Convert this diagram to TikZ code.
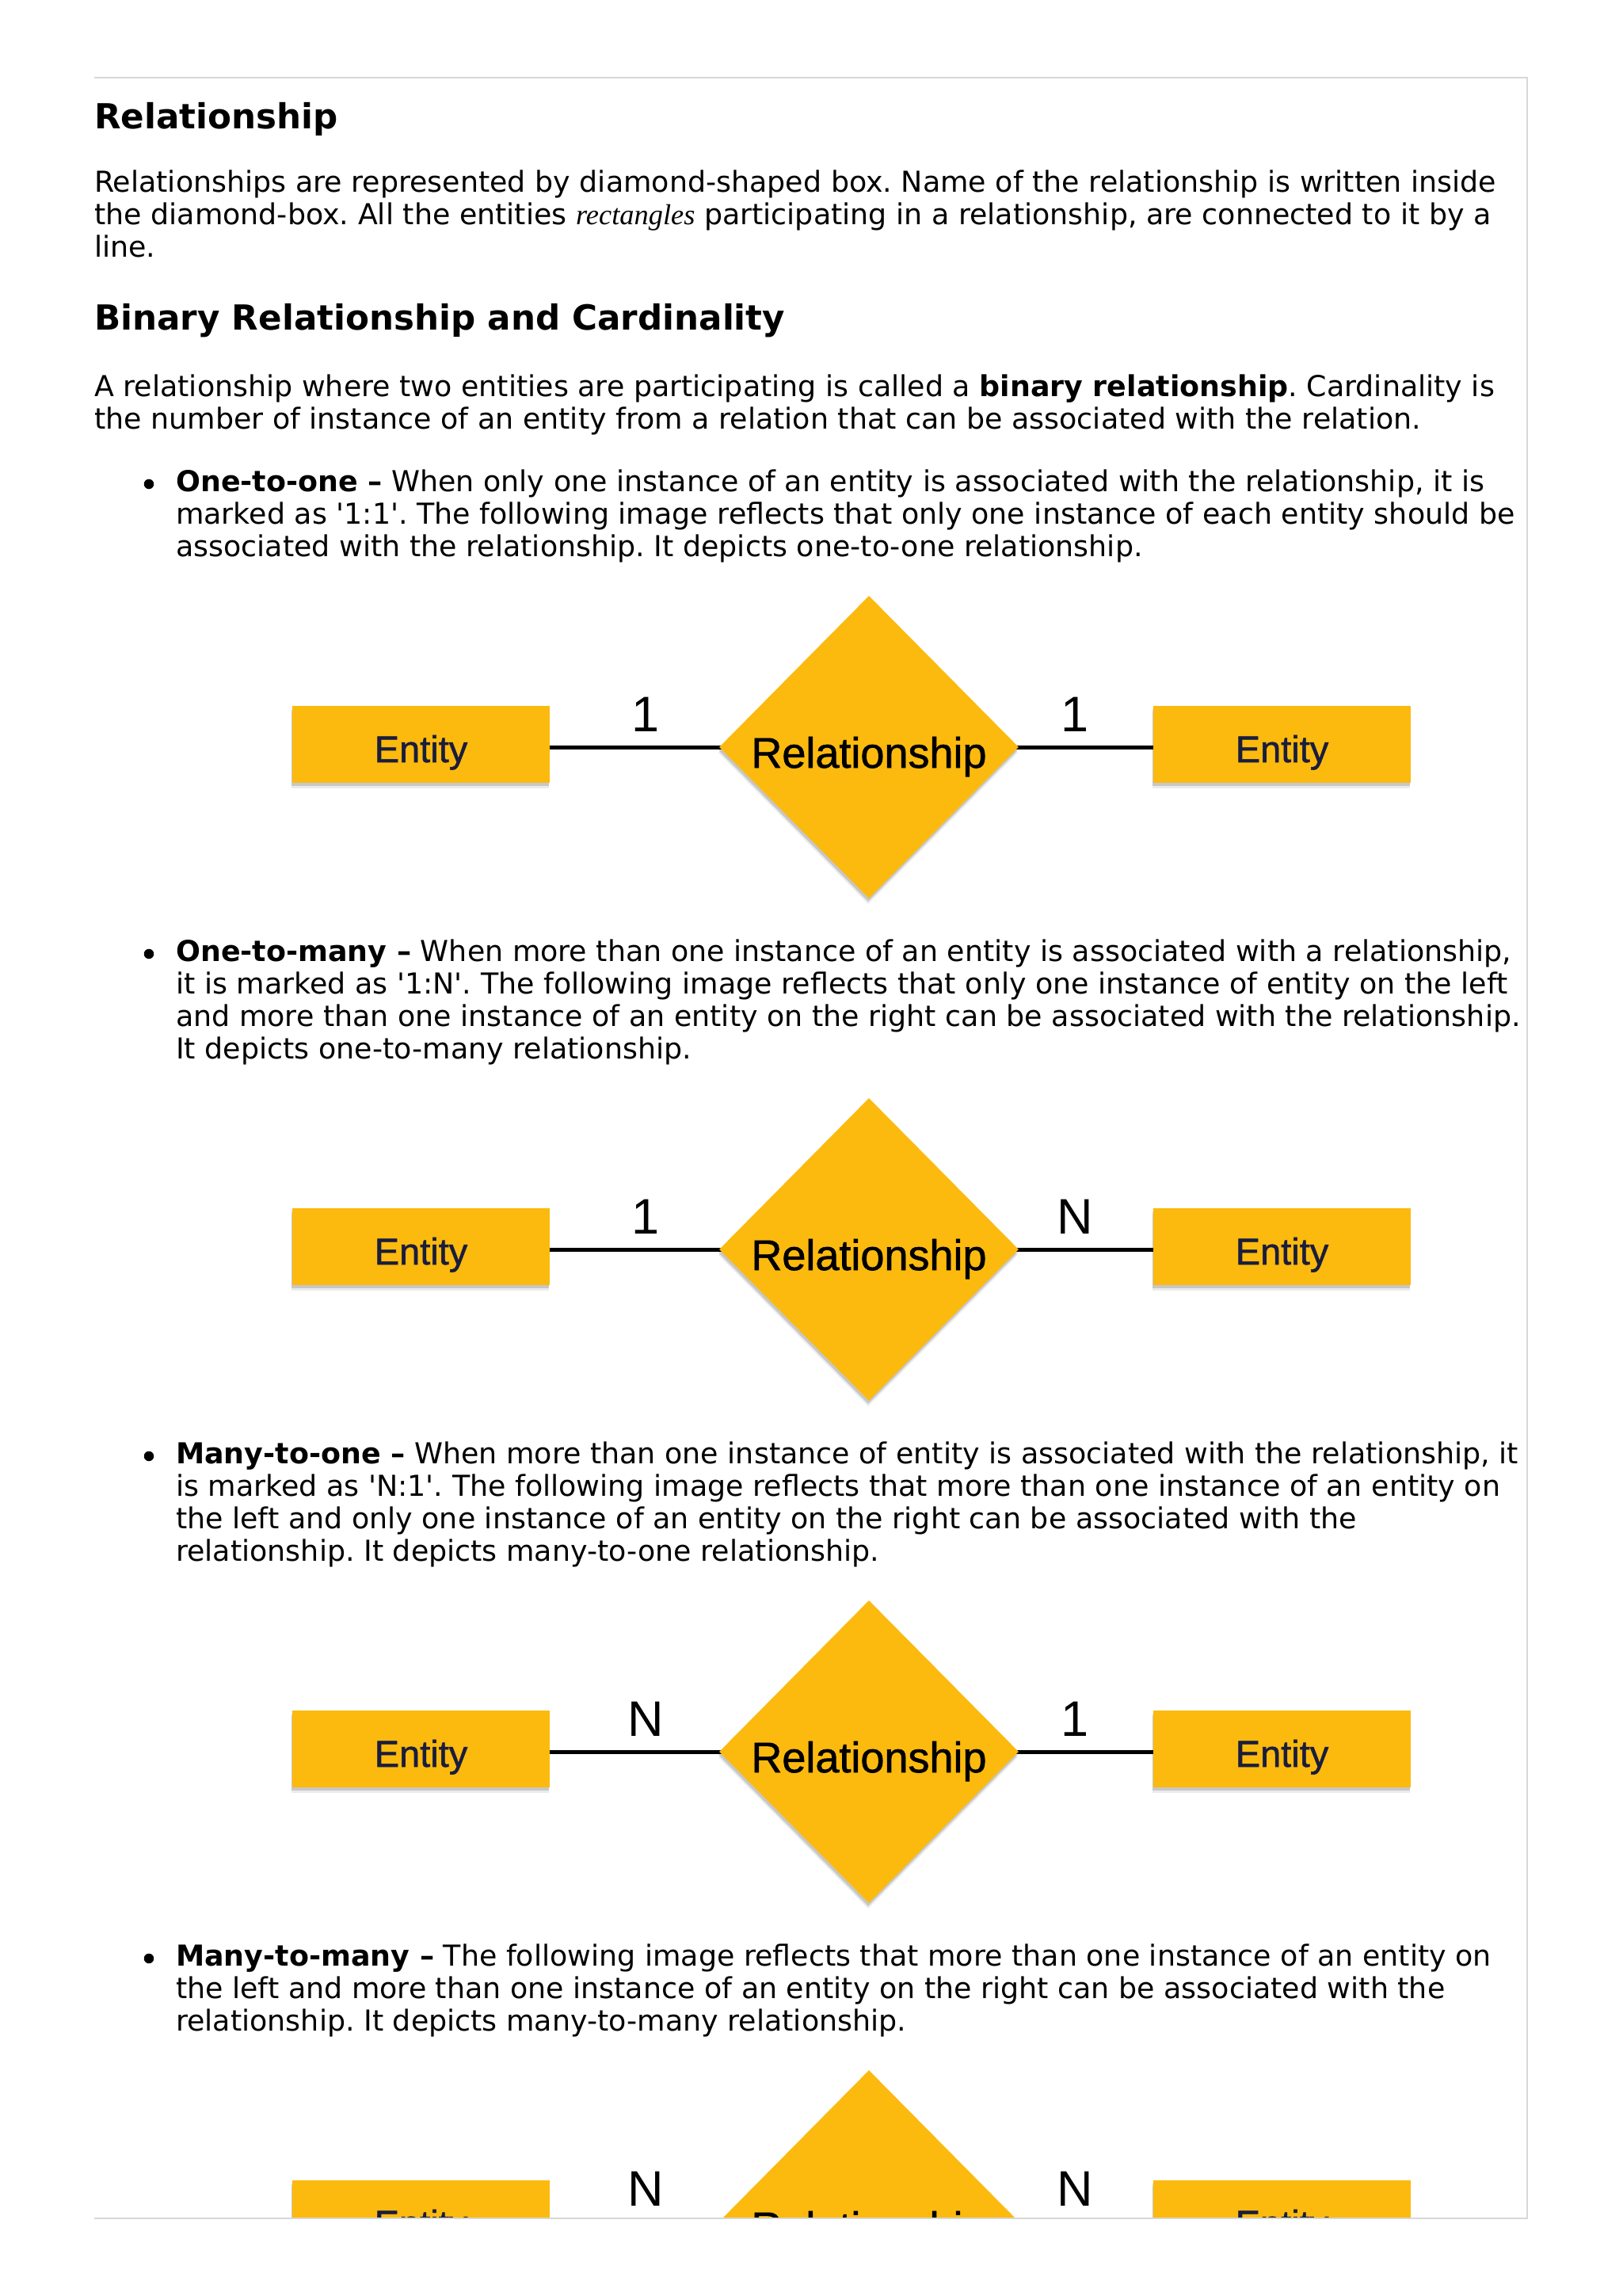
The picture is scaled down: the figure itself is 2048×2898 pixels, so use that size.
\documentclass[tikz,border=0pt]{standalone}
\usepackage{fontspec}
\setmainfont{DejaVu Sans}
\newfontfamily\arialfont{Liberation Sans}
\newfontfamily\arialheavy{Liberation Sans}[FakeBold=1.2]
\newfontfamily\timesfont{Liberation Serif}
\usetikzlibrary{shapes.geometric,shadows}
\definecolor{ery}{RGB}{252,186,14}
\definecolor{navy}{RGB}{26,29,60}
\definecolor{framegray}{RGB}{215,215,215}
\tikzset{
  txt/.style={anchor=base west, inner sep=0pt, font=\frenchspacing\fontsize{36.4}{41}\selectfont},
  bul/.style={circle, fill=black, inner sep=0pt, minimum size=12.5pt},
  head/.style={anchor=base west, inner sep=0pt, font=\bfseries\fontsize{43.6}{50}\selectfont},
  softshadow/.style={
    drop shadow={shadow xshift=-1pt, shadow yshift=-7pt, opacity=0.08, fill=black},
    drop shadow={shadow xshift=-1pt, shadow yshift=-4pt, opacity=0.15, fill=black}},
  entity/.style={rectangle, fill=ery, minimum width=325pt, minimum height=97pt, inner sep=0pt,
    text height=45pt, text depth=0pt, text=navy, font=\arialheavy\fontsize{47}{47}\selectfont,
    softshadow},
  relbox/.style={diamond, fill=ery, minimum width=378pt, minimum height=382pt, inner sep=0pt,
    text height=52pt, text depth=0pt, text=black, font=\arialheavy\fontsize{54}{54}\selectfont,
    softshadow},
  card/.style={anchor=base, inner sep=0pt, font=\arialfont\fontsize{63}{63}\selectfont},
  conn/.style={line width=5pt, black},
  framel/.style={line width=2pt, framegray}
}
\newcommand\erdiagram[4]{%
  \draw[conn] (531.5,#2) -- (1097,#2);
  \draw[conn] (1097,#2) -- (1618.5,#2);
  \node[entity] (el#1) at (531.5,#2-3.5) {Entity};
  \node[relbox] (rel#1) at (1097,#2) {Relationship};
  \node[entity] (er#1) at (1618.5,#2-3.5) {Entity};
  \node[card] (cl#1) at (815,#2-20) {#3};
  \node[card] (cr#1) at (1357,#2-20) {#4};
}
\begin{document}
\begin{tikzpicture}[x=1pt,y=-1pt]
\useasboundingbox[fill=white] (0,0) rectangle (2048,2898);

\node[head] (h1) at (119,163) {Relationship};
\node[txt] (p1a) at (119,242) {Relationships are represented by diamond-shaped box. Name of the relationship is written inside};
\node[txt] (p1b) at (119,283) {the diamond-box. All the entities {\timesfont\itshape rectangles} participating in a relationship, are connected to it by a};
\node[txt] (p1c) at (119,324) {line.};

\node[head] (h2) at (119,416) {Binary Relationship and Cardinality};
\node[txt] (p2a) at (119,500) {A relationship where two entities are participating is called a \textbf{binary relationship}. Cardinality is};
\node[txt] (p2b) at (119,541) {the number of instance of an entity from a relation that can be associated with the relation.};

% bullet 1
\node[bul] (b1) at (188,611) {};
\node[txt] (b1a) at (222,620) {\textbf{One-to-one –} When only one instance of an entity is associated with the relationship, it is};
\node[txt] (b1b) at (222,661) {marked as \textquotesingle 1:1\textquotesingle. The following image reflects that only one instance of each entity should be};
\node[txt] (b1c) at (222,702) {associated with the relationship. It depicts one-to-one relationship.};
\erdiagram{1}{943}{1}{1}

% bullet 2
\node[bul] (b2) at (188,1204) {};
\node[txt] (b2a) at (222,1213) {\textbf{One-to-many –} When more than one instance of an entity is associated with a relationship,};
\node[txt] (b2b) at (222,1254) {it is marked as \textquotesingle 1:N\textquotesingle. The following image reflects that only one instance of entity on the left};
\node[txt] (b2c) at (222,1295) {and more than one instance of an entity on the right can be associated with the relationship.};
\node[txt] (b2d) at (222,1336) {It depicts one-to-many relationship.};
\erdiagram{2}{1577}{1}{N}

% bullet 3
\node[bul] (b3) at (188,1838) {};
\node[txt] (b3a) at (222,1847) {\textbf{Many-to-one –} When more than one instance of entity is associated with the relationship, it};
\node[txt] (b3b) at (222,1888) {is marked as \textquotesingle N:1\textquotesingle. The following image reflects that more than one instance of an entity on};
\node[txt] (b3c) at (222,1929) {the left and only one instance of an entity on the right can be associated with the};
\node[txt] (b3d) at (222,1970) {relationship. It depicts many-to-one relationship.};
\erdiagram{3}{2211}{N}{1}

% bullet 4
\node[bul] (b4) at (188,2472) {};
\node[txt] (b4a) at (222,2481) {\textbf{Many-to-many –} The following image reflects that more than one instance of an entity on};
\node[txt] (b4b) at (222,2522) {the left and more than one instance of an entity on the right can be associated with the};
\node[txt] (b4c) at (222,2563) {relationship. It depicts many-to-many relationship.};
\begin{scope}
  \clip (0,0) rectangle (2048,2799);
  \erdiagram{4}{2804}{N}{N}
\end{scope}

% page frame
\draw[framel] (119,98) -- (1928,98) -- (1928,2800) -- (119,2800);
\end{tikzpicture}
\end{document}
